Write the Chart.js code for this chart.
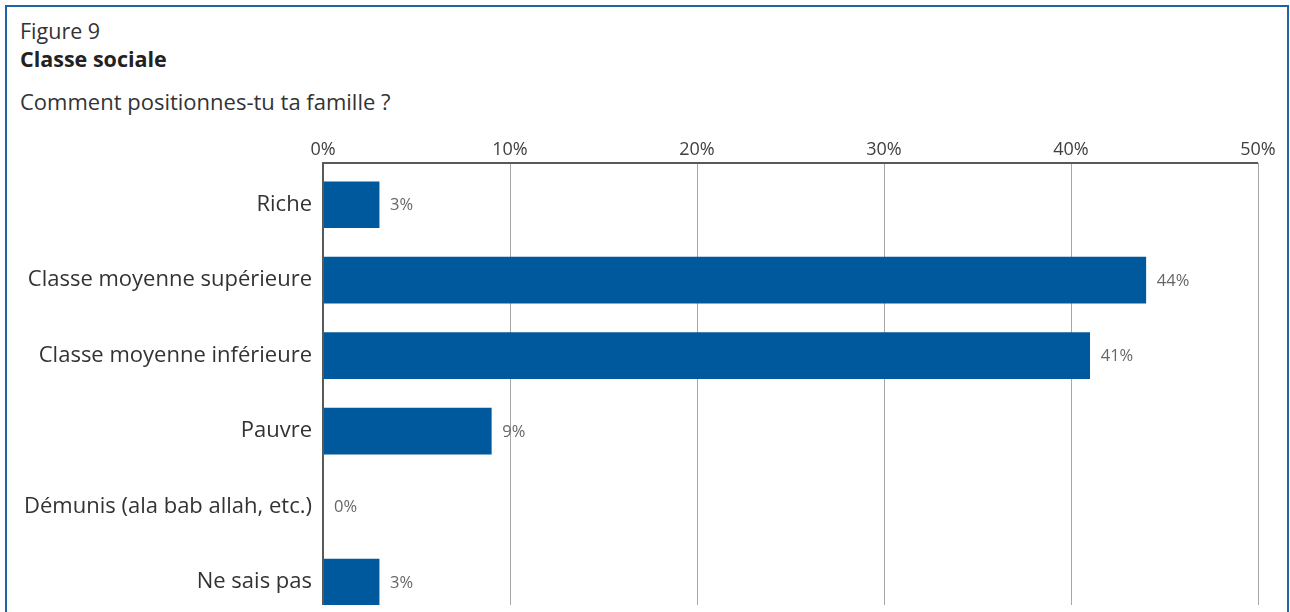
<!DOCTYPE html>
<html>
<head>
<meta charset="utf-8">
<script src="https://cdn.jsdelivr.net/npm/chart.js@4/dist/chart.umd.min.js"></script>
<style>
  html, body { margin: 0; padding: 0; width: 1290px; height: 612px; overflow: hidden; background: #fff; }
  body { position: relative; font-family: "Open Sans", sans-serif; color: #222; }
  .frame { position: absolute; left: 5px; top: 5px; width: 1280px; height: 660px; border: 2px solid #1f62a6; }
  .fig { position: absolute; left: 20px; top: 17px; font-size: 21.5px; line-height: 28px; color: #333; }
  .ttl { position: absolute; left: 20px; top: 45px; font-size: 21.5px; line-height: 28px; font-weight: bold; }
  .q { position: absolute; left: 20px; top: 86px; font-size: 22px; line-height: 30px; color: #333; }
  .clip { position: absolute; left: 0; top: 0; width: 1285px; height: 605px; overflow: hidden; }
  #chart { position: absolute; left: 0; top: 0; }
</style>
</head>
<body>
<div class="frame"></div>
<div class="fig">Figure 9</div>
<div class="ttl">Classe sociale</div>
<div class="q">Comment positionnes-tu ta famille ?</div>
<div class="clip"><canvas id="chart" width="1290" height="644"></canvas></div>
<script>
// Categories and shares (%)
const categories = [
    'Riche',
    'Classe moyenne supérieure',
    'Classe moyenne inférieure',
    'Pauvre',
    'Démunis (ala bab allah, etc.)',
    'Ne sais pas'
];
const shares = [3, 44, 41, 9, 0, 3];
const axisTicks = [0, 10, 20, 30, 40, 50];

const barColor = '#00599c';
const axisColor = '#595959';

// Axis lines (top and left) sit slightly above the category band, like the original
const axisLines = {
    id: 'axisLines',
    afterDatasetsDraw(chart) {
        const { ctx, chartArea } = chart;
        const lift = 4;
        ctx.save();
        ctx.strokeStyle = axisColor;
        ctx.lineWidth = 2;
        ctx.beginPath();
        ctx.moveTo(chartArea.left - 1, chartArea.top - lift);
        ctx.lineTo(chartArea.right, chartArea.top - lift);
        ctx.moveTo(chartArea.left, chartArea.top - lift);
        ctx.lineTo(chartArea.left, chartArea.bottom);
        ctx.stroke();
        ctx.restore();
    }
};

// Value labels right of each bar
const valueLabels = {
    id: 'valueLabels',
    afterDatasetsDraw(chart) {
        const { ctx } = chart;
        const meta = chart.getDatasetMeta(0);
        ctx.save();
        ctx.font = '16.5px "Open Sans", sans-serif';
        ctx.fillStyle = '#666666';
        ctx.textAlign = 'left';
        ctx.textBaseline = 'middle';
        meta.data.forEach((bar, i) => {
            ctx.fillText(shares[i] + '%', bar.x + 11, bar.y + 1);
        });
        ctx.restore();
    }
};

new Chart(document.getElementById('chart'), {
    type: 'bar',
    data: {
        labels: categories,
        datasets: [{
            data: shares,
            backgroundColor: barColor,
            borderWidth: 0,
            barThickness: 46
        }]
    },
    options: {
        indexAxis: 'y',
        responsive: false,
        animation: false,
        layout: { padding: { left: 0, right: 32, top: 0, bottom: 0 } },
        plugins: {
            legend: { display: false },
            tooltip: { enabled: false }
        },
        scales: {
            x: {
                position: 'top',
                min: 0,
                max: 50,
                afterBuildTicks: scale => { scale.ticks = axisTicks.map(v => ({ value: v })); },
                afterFit: scale => { scale.height = 167; },
                grid: { color: '#a6a6a6', lineWidth: 1, drawTicks: true, tickLength: 4 },
                border: { display: false },
                ticks: {
                    callback: v => v + '%',
                    color: '#404040',
                    padding: 2,
                    maxRotation: 0,
                    font: { family: '"Open Sans", sans-serif', size: 18 }
                }
            },
            y: {
                afterFit: scale => { scale.width = 323; },
                grid: { display: false, drawTicks: false },
                border: { display: false },
                ticks: {
                    color: '#333333',
                    padding: 11,
                    font: { family: '"Open Sans", sans-serif', size: 22 }
                }
            }
        }
    },
    plugins: [axisLines, valueLabels]
});
</script>
</body>
</html>
